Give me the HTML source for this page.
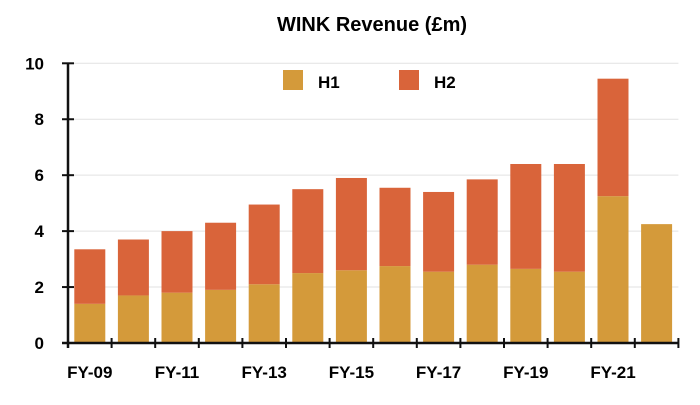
<!DOCTYPE html>
<html><head><meta charset="utf-8"><style>
body{margin:0;background:#fff;width:700px;height:400px;overflow:hidden}
text{font-family:"Liberation Sans",Arial,sans-serif;font-weight:bold}
</style></head><body>
<svg id="chart" width="700" height="400" xmlns="http://www.w3.org/2000/svg">
<text x="372" y="31" font-size="20" text-anchor="middle">WINK Revenue (£m)</text>
<g id="grid"></g><g id="bars"></g><g id="axes"></g>
<g>
<rect x="283" y="70" width="20" height="20" fill="#D49A3A"/>
<text x="318" y="88" font-size="17">H1</text>
<rect x="399" y="70" width="20" height="20" fill="#D9643A"/>
<text x="434" y="88" font-size="17">H2</text>
</g>
</svg>
<script>
const categories=["FY-09","FY-10","FY-11","FY-12","FY-13","FY-14","FY-15","FY-16","FY-17","FY-18","FY-19","FY-20","FY-21","FY-22"];
const h1=[1.4,1.7,1.8,1.9,2.1,2.5,2.6,2.75,2.55,2.8,2.65,2.55,5.25,4.25];
const h2=[1.95,2.0,2.2,2.4,2.85,3.0,3.3,2.8,2.85,3.05,3.75,3.85,4.2,0];
const yTicks=[0,2,4,6,8,10];
const NS="http://www.w3.org/2000/svg";
const x0=68,step=43.6,y0=343,yTop=63.3,ymax=10,bw=31;
const Y=v=>y0-(v/ymax)*(y0-yTop);
const X=i=>x0+i*step;
function mk(tag,attrs,parent,txt){const e=document.createElementNS(NS,tag);for(const k in attrs)e.setAttribute(k,attrs[k]);if(txt!=null)e.textContent=txt;parent.appendChild(e);return e;}
const grid=document.getElementById('grid'),bars=document.getElementById('bars'),axes=document.getElementById('axes');
const xEnd=X(categories.length);
yTicks.forEach(t=>{
 if(t>0){const g=mk('line',{x1:x0,x2:xEnd,y1:Y(t),y2:Y(t),stroke:'#e2e2e2','stroke-width':1},grid);
 
 }
 const tk=mk('line',{x1:x0-6,x2:x0+6,y1:Y(t),y2:Y(t),stroke:'#111','stroke-width':2},axes);
 
 
 const l=mk('text',{x:44,y:Y(t)+6,'font-size':17,'text-anchor':'end'},axes,String(t));
 
 
});
categories.forEach((c,i)=>{
 const cx=X(i)+step/2;
 const a=mk('rect',{x:cx-bw/2,y:Y(h1[i]),width:bw,height:y0-Y(h1[i]),fill:'#D49A3A'},bars);
 
 
 if(h2[i]>0){const b=mk('rect',{x:cx-bw/2,y:Y(h1[i]+h2[i]),width:bw,height:Y(h1[i])-Y(h1[i]+h2[i]),fill:'#D9643A'},bars);
 
 }
 const tk=mk('line',{x1:X(i+1),x2:X(i+1),y1:y0-5,y2:y0+5,stroke:'#111','stroke-width':2},axes);
 
 
 if(i%2===0){const l=mk('text',{x:cx,y:378,'font-size':17,'text-anchor':'middle'},axes,c);
 
 }
});
const ya=mk('line',{x1:x0,x2:x0,y1:yTop,y2:y0+5,stroke:'#111','stroke-width':2.5},axes);


const xa=mk('line',{x1:x0-6,x2:xEnd,y1:y0,y2:y0,stroke:'#111','stroke-width':2.5},axes);


</script>
</body></html>
